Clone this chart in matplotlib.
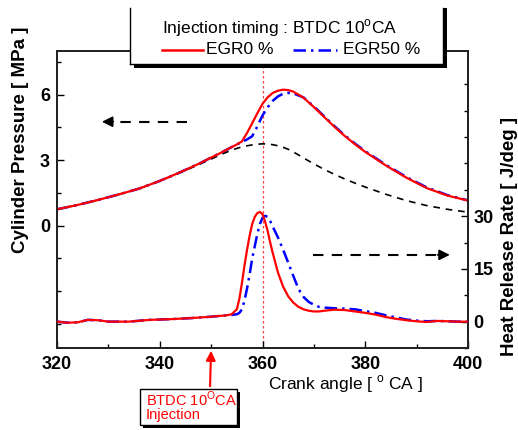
import matplotlib
matplotlib.use("Agg")
import matplotlib.pyplot as plt
from matplotlib.patches import Rectangle
from matplotlib.lines import Line2D

plt.rcParams['font.family'] = ['Liberation Sans', 'DejaVu Sans']
plt.rcParams['mathtext.fontset'] = 'custom'
plt.rcParams['mathtext.rm'] = 'Liberation Sans'
plt.rcParams['mathtext.bf'] = 'Liberation Sans:bold'

# ---------------- data ----------------
crank_p = [320, 324, 328, 332, 336, 340, 344, 348, 350, 352, 354, 355, 356, 357, 358,
           359, 360, 361, 362, 363, 364, 365, 366, 368, 370, 372, 374, 376, 378, 380,
           384, 388, 392, 396, 400]
p_egr0 = [0.75, 0.95, 1.18, 1.43, 1.70, 2.05, 2.45, 2.88, 3.12, 3.35, 3.60, 3.72, 3.86,
          4.25, 4.70, 5.15, 5.58, 5.88, 6.08, 6.18, 6.23, 6.21, 6.14, 5.86, 5.43, 4.98,
          4.53, 4.11, 3.73, 3.38, 2.76, 2.20, 1.72, 1.38, 1.15]
p_egr50 = [0.75, 0.95, 1.18, 1.43, 1.70, 2.05, 2.45, 2.88, 3.12, 3.35, 3.60, 3.72, 3.84,
           3.95, 4.10, 4.55, 5.05, 5.42, 5.72, 5.92, 6.04, 6.08, 6.06, 5.87, 5.46, 5.01,
           4.56, 4.14, 3.76, 3.41, 2.79, 2.23, 1.75, 1.40, 1.16]
p_motored = [0.75, 0.95, 1.18, 1.43, 1.70, 2.05, 2.43, 2.84, 3.05, 3.27, 3.46, 3.54, 3.61,
             3.66, 3.70, 3.73, 3.75, 3.74, 3.71, 3.66, 3.59, 3.50, 3.38, 3.10, 2.83, 2.58,
             2.35, 2.14, 1.95, 1.77, 1.44, 1.15, 0.92, 0.75, 0.62]

crank_h = [320, 322, 324, 326, 328, 330, 334, 338, 342, 346, 350, 353, 354, 355, 355.5,
           356, 356.5, 357, 357.5, 358, 358.5, 359, 359.5, 360, 360.5, 361, 361.5, 362,
           363, 364, 365, 366, 367, 368, 369, 370, 371, 372, 374, 376, 378, 380, 382, 384,
           386, 388, 390, 392, 394, 396, 398, 400]
hrr_egr0 = [0.0, -0.3, -0.2, 0.5, 0.4, 0.0, 0.0, 0.5, 0.7, 1.0, 1.4, 1.8, 2.1, 3.5, 6.5,
            11.0, 16.0, 20.5, 24.5, 27.8, 29.8, 30.9, 31.2, 30.6, 28.5, 25.8, 22.5, 19.5,
            14.0, 10.0, 7.2, 5.4, 4.2, 3.5, 3.1, 2.9, 2.9, 3.1, 3.4, 3.3, 2.9, 2.5, 2.0, 1.3,
            0.8, 0.4, 0.1, -0.1, 0.2, 0.1, 0.0, 0.0]
hrr_egr50 = [0.0, -0.3, -0.2, 0.5, 0.4, 0.0, 0.0, 0.5, 0.7, 1.0, 1.4, 1.8, 1.9, 2.1, 2.5,
             3.5, 6.0, 9.5, 13.5, 18.0, 21.5, 25.0, 27.8, 29.5, 30.1, 29.8, 28.6, 27.0,
             24.0, 20.5, 16.8, 13.0, 9.3, 7.0, 5.6, 4.8, 4.2, 4.0, 3.8, 3.7, 3.5, 3.0, 2.5,
             1.8, 1.2, 0.6, 0.3, 0.1, 0.2, 0.1, 0.0, 0.0]

x_ticks = [320, 340, 360, 380, 400]
p_ticks = [0, 3, 6]
h_ticks = [0, 15, 30]
injection_angle = 350
tdc = 360

# ---------------- figure ----------------
W, H = 518, 430
fig = plt.figure(figsize=(W / 100, H / 100), dpi=100)
ax = fig.add_axes([57 / W, 1 - 348 / H, (468 - 57) / W, (348 - 51) / H])
ax2 = ax.twinx()

def fx(px):
    return px / W

def fy(py):
    return 1 - py / H

ax.plot(crank_p, p_motored, color='black', lw=1.2, ls=(0, (4, 3.5)), zorder=2)
ax.plot(crank_p, p_egr50, color='#0000ff', lw=1.8, ls=(0, (5, 2, 1, 2)), zorder=3)
ax.plot(crank_p, p_egr0, color='#ff0000', lw=1.6, zorder=4)
ax.axvline(tdc, color='#ff4040', lw=0.9, ls=(0, (2, 2)), zorder=1)

ax2.plot(crank_h, hrr_egr50, color='#0000ff', lw=1.8, ls=(0, (5, 2, 1, 2)), zorder=3)
ax2.plot(crank_h, hrr_egr0, color='#ff0000', lw=1.6, zorder=4)

ax.set_xlim(320, 400)
ax.set_ylim(-5.6, 8.0)
ax2.set_ylim(-7.1, 77)

ax.set_xticks(x_ticks)
ax.set_xticks([330, 350, 370, 390], minor=True)
ax.set_yticks(p_ticks)
ax.set_yticks([-4.5, -3, -1.5, 1.5, 4.5, 7.5], minor=True)
ax2.set_yticks(h_ticks)
ax2.set_yticks([-7.5 + 7.5 * i for i in range(11) if (-7.5 + 7.5 * i) not in h_ticks], minor=True)

for a in (ax, ax2):
    a.tick_params(which='major', direction='in', length=5, width=1,
                  labelsize=13, pad=5)
    a.tick_params(which='minor', direction='in', length=3, width=1)
    for lbl in a.get_xticklabels() + a.get_yticklabels():
        lbl.set_fontweight('bold')
    for s in a.spines.values():
        s.set_linewidth(1.3)
        s.set_color('#222222')
ax.tick_params(axis='x', pad=6)
ax2.tick_params(axis='y', pad=4)

fig.text(fx(21), fy(140), 'Cylinder Pressure [ MPa ]', rotation=90, fontsize=13.5,
         fontweight='bold', ha='center', va='center')
fig.text(fx(509), fy(237), 'Heat Release Rate [ J/deg ]', rotation=90, fontsize=13.5,
         fontweight='bold', ha='center', va='center')
fig.text(fx(268), fy(384), 'Crank angle [ $^{\\rm o}$ CA ]', fontsize=12.5,
         ha='left', va='center')

# dashed direction arrows
ax.plot([345.4, 330.5], [4.76, 4.76], color='black', lw=1.5, ls=(0, (5, 4)))
ax.annotate('', xy=(328.2, 4.76), xytext=(331.5, 4.76),
            arrowprops=dict(arrowstyle='-|>', color='black', lw=1.2, mutation_scale=16))
ax2.plot([369.9, 394.5], [19, 19], color='black', lw=1.5, ls=(0, (5, 4)))
ax2.annotate('', xy=(397.0, 19), xytext=(393.5, 19),
             arrowprops=dict(arrowstyle='-|>', color='black', lw=1.2, mutation_scale=16))

# legend box (manual)
fig.add_artist(Rectangle((fx(134), fy(68)), fx(447) - fx(134), fy(8) - fy(68),
                         transform=fig.transFigure, facecolor='black', edgecolor='none', zorder=5))
fig.add_artist(Rectangle((fx(130), fy(64)), fx(443) - fx(130), fy(5) - fy(64),
                         transform=fig.transFigure, facecolor='white', edgecolor='none', zorder=6))
for (x0, y0, x1, y1) in [(130, 8, 130, 64), (130, 64, 443, 64), (443, 8, 443, 64)]:
    fig.add_artist(Line2D([fx(x0), fx(x1)], [fy(y0), fy(y1)], transform=fig.transFigure,
                          color='black', lw=1.0, zorder=7))
fig.text(fx(162), fy(28), 'Injection timing : BTDC 10$^{\\rm o}$CA', fontsize=12.5,
         ha='left', va='center', zorder=8)
fig.add_artist(Line2D([fx(162), fx(203)], [fy(50), fy(50)], transform=fig.transFigure,
                      color='#ff0000', lw=1.8, zorder=8))
fig.text(fx(206), fy(50), 'EGR0 %', fontsize=12.5, ha='left', va='center', zorder=8)
fig.add_artist(Line2D([fx(293), fx(337)], [fy(50), fy(50)], transform=fig.transFigure,
                      color='#0000ff', lw=1.8, ls=(0, (5, 2, 1, 2)), zorder=8))
fig.text(fx(343), fy(50), 'EGR50 %', fontsize=12.5, ha='left', va='center', zorder=8)

# injection annotation box
fig.add_artist(Rectangle((fx(143), fy(428)), fx(240) - fx(143), fy(392) - fy(428),
                         transform=fig.transFigure, facecolor='black', edgecolor='none', zorder=5))
fig.add_artist(Rectangle((fx(140), fy(425)), fx(237) - fx(140), fy(389) - fy(425),
                         transform=fig.transFigure, facecolor='white', edgecolor='black',
                         lw=1.0, zorder=6))
fig.text(fx(146), fy(399), 'BTDC 10$^{\\rm O}$CA', color='#ff0000', fontsize=10.5,
         ha='left', va='center', zorder=8)
fig.text(fx(146), fy(415), 'Injection', color='#ff0000', fontsize=10.5,
         ha='left', va='center', zorder=8)
ax.annotate('', xy=(injection_angle, -5.6), xycoords='data',
            xytext=(fx(210), fy(389)), textcoords='figure fraction',
            arrowprops=dict(arrowstyle='-|>', color='#ff0000', lw=1.5, mutation_scale=14),
            annotation_clip=False)

fig.savefig('out.png', dpi=100)
